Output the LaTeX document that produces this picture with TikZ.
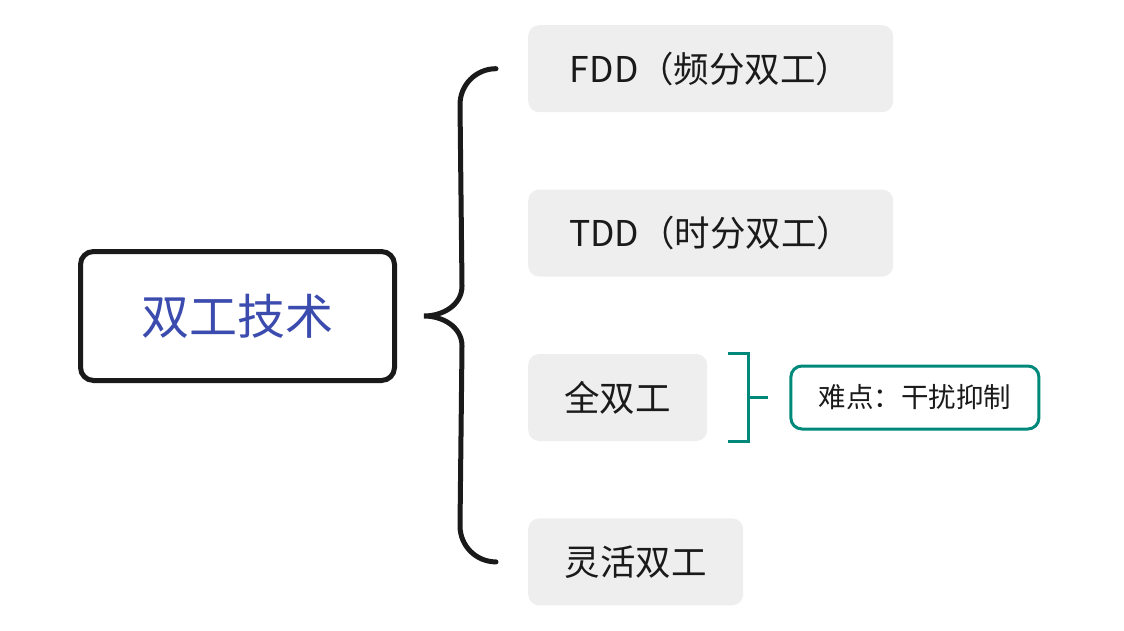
\documentclass[tikz,border=0pt]{standalone}
\usepackage{fontspec}
\setmainfont{Noto Sans CJK SC}
\usepackage{tikz}
\usetikzlibrary{positioning,calc}
\definecolor{leafgray}{HTML}{EEEEEE}
\definecolor{rootblue}{HTML}{3B4BAE}
\definecolor{noteteal}{HTML}{00897B}
\definecolor{inkblack}{HTML}{1A1A1A}

\begin{document}
\begin{tikzpicture}[
  x=1pt, y=1pt,
  root/.style={draw=inkblack, line width=5pt, rounded corners=13pt, fill=white,
               minimum width=314pt, minimum height=129pt, inner sep=0pt,
               text=rootblue, font=\fontsize{48}{52}\selectfont},
  leaf/.style={fill=leafgray, rounded corners=11pt, minimum height=87pt,
               inner sep=0pt, text=inkblack, font=\fontsize{35.5}{40}\selectfont},
  note/.style={draw=noteteal, line width=3pt, rounded corners=11pt, fill=white,
               minimum width=248pt, minimum height=63pt, inner sep=0pt,
               text=inkblack, font=\fontsize{27.5}{31}\selectfont},
  brace/.style={draw=inkblack, line width=5pt, line cap=round},
  bracket/.style={draw=noteteal, line width=3pt}
]
  \useasboundingbox (0,0) rectangle (1124,-631);
  \node[root] (duplex) at (237.5,-316) {双工技术};
  \node[leaf, minimum width=365pt, anchor=north west] (fdd) at (528,-25)
        {FDD（频分双工）};
  \node[leaf, minimum width=365pt, below=77pt of fdd.south west, anchor=north west]
        (tdd) {TDD（时分双工）};
  \node[leaf, minimum width=179pt, below=77pt of tdd.south west, anchor=north west]
        (full) {全双工};
  \node[leaf, minimum width=215pt, below=77pt of full.south west, anchor=north west]
        (flex) {灵活双工};
  \node[note, right=82pt of full] (hard) {难点：干扰抑制};
  % curly brace from the root to its four children
  \coordinate (tip) at ([xshift=27pt]duplex.east);
  \draw[brace] ([xshift=-32pt]fdd.west) to[out=180,in=90] ++(-36,-36)
        -- ($(tip)+(38,30)$) to[out=-90,in=0] (tip)
        to[out=0,in=90] ($(tip)+(38,-30)$)
        -- ($([xshift=-32pt]flex.west)+(-36,36)$) to[out=-90,in=180]
        ([xshift=-32pt]flex.west);
  % summary bracket for the full duplex note
  \draw[bracket] ([xshift=21pt]full.north east) -| ([xshift=41pt]full.south east)
        -- ([xshift=21pt]full.south east);
  \draw[bracket] ([xshift=41pt]full.east) -- ([xshift=-21pt]hard.west);
\end{tikzpicture}
\end{document}
